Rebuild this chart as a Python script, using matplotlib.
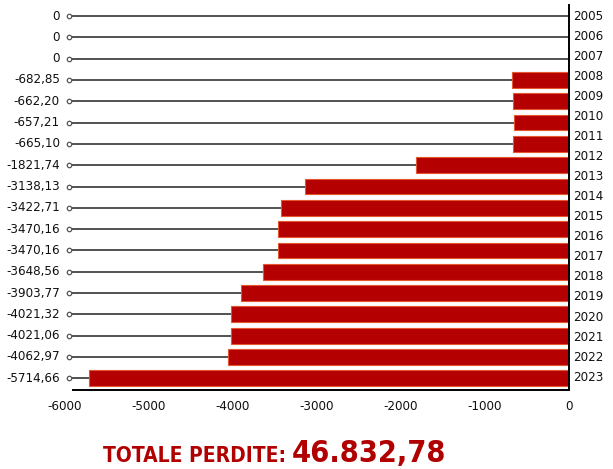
import matplotlib
matplotlib.use("Agg")
import matplotlib.pyplot as plt
import numpy as np

# ---- data ----
values = [0, 0, 0, -682.85, -662.20, -657.21, -665.10, -1821.74, -3138.13,
          -3422.71, -3470.16, -3470.16, -3648.56, -3903.77, -4021.32,
          -4021.06, -4062.97, -5714.66]
value_labels = ["0", "0", "0", "-682,85", "-662,20", "-657,21", "-665,10",
                "-1821,74", "-3138,13", "-3422,71", "-3470,16", "-3470,16",
                "-3648,56", "-3903,77", "-4021,32", "-4021,06", "-4062,97",
                "-5714,66"]
years = [str(y) for y in range(2005, 2024)]
xticks = [-6000, -5000, -4000, -3000, -2000, -1000, 0]
total_label = "TOTALE PERDITE:"
total_value = "46.832,78"

plt.rcParams['font.family'] = ["DejaVu Sans"]
plt.rcParams['font.stretch'] = "condensed"
FS = 9.5

W, H = 613, 469
fig = plt.figure(figsize=(W / 100, H / 100), dpi=100)
ax_l, ax_r, ax_t, ax_b = 65, 569, 5, 390
ax = fig.add_axes([ax_l / W, 1 - ax_b / H, (ax_r - ax_l) / W, (ax_b - ax_t) / H])

n = len(values)
ypos = np.arange(n)
bar_red = "#b40000"

# connector lines and markers
for i, v in enumerate(values):
    ax.plot([-5950, v], [i, i], color="#333333", lw=1.2, zorder=1,
            solid_capstyle="butt")
ax.plot([-5950] * n, ypos, 'o', ms=3.2, mfc="white", mec="#555555",
        mew=0.9, zorder=3, clip_on=False)

ax.barh(ypos, values, height=0.74, color=bar_red, edgecolor="#e4562e",
        linewidth=0.8, zorder=2)

ax.set_xlim(-6000, 0)
ax.set_ylim(n - 0.45, -0.52)

for s in ["top", "left"]:
    ax.spines[s].set_visible(False)
ax.spines["right"].set_linewidth(1.4)
ax.spines["bottom"].set_linewidth(1.4)
ax.spines["right"].set_color("black")
ax.spines["bottom"].set_color("black")
ax.spines["bottom"].set_bounds(-5910, 0)

ax.set_xticks(xticks)
ax.set_xticklabels([str(t) for t in xticks], fontsize=FS, fontstretch="condensed",
                   color="#111111")
ax.tick_params(axis="x", length=0, pad=7)
ax.set_yticks([])

# value labels on the left
for i, lab in enumerate(value_labels):
    ax.annotate(lab, xy=(0, i), xycoords=("axes fraction", "data"),
                xytext=(-5, 0), textcoords="offset pixels",
                ha="right", va="center", fontsize=FS, color="#111111",
                fontstretch="condensed")

# year labels on the right (evenly spaced from first to last row)
y_first, y_last = 0, n - 1.05
for k, yr in enumerate(years):
    yy = y_first + (y_last - y_first) * k / (len(years) - 1)
    ax.annotate(yr, xy=(1, yy), xycoords=("axes fraction", "data"),
                xytext=(4, 0), textcoords="offset pixels",
                ha="left", va="center", fontsize=FS, color="#111111",
                fontstretch="condensed")

# total
fig.text(286 / W, 1 - 462 / H, total_label, ha="right", va="baseline",
         fontsize=15, fontweight="bold", color="#b00000",
         fontstretch="condensed")
fig.text(292 / W, 1 - 462 / H, total_value, ha="left", va="baseline",
         fontsize=22, fontweight="bold", color="#b00000",
         fontstretch="condensed")

fig.savefig("out.png", dpi=100)
